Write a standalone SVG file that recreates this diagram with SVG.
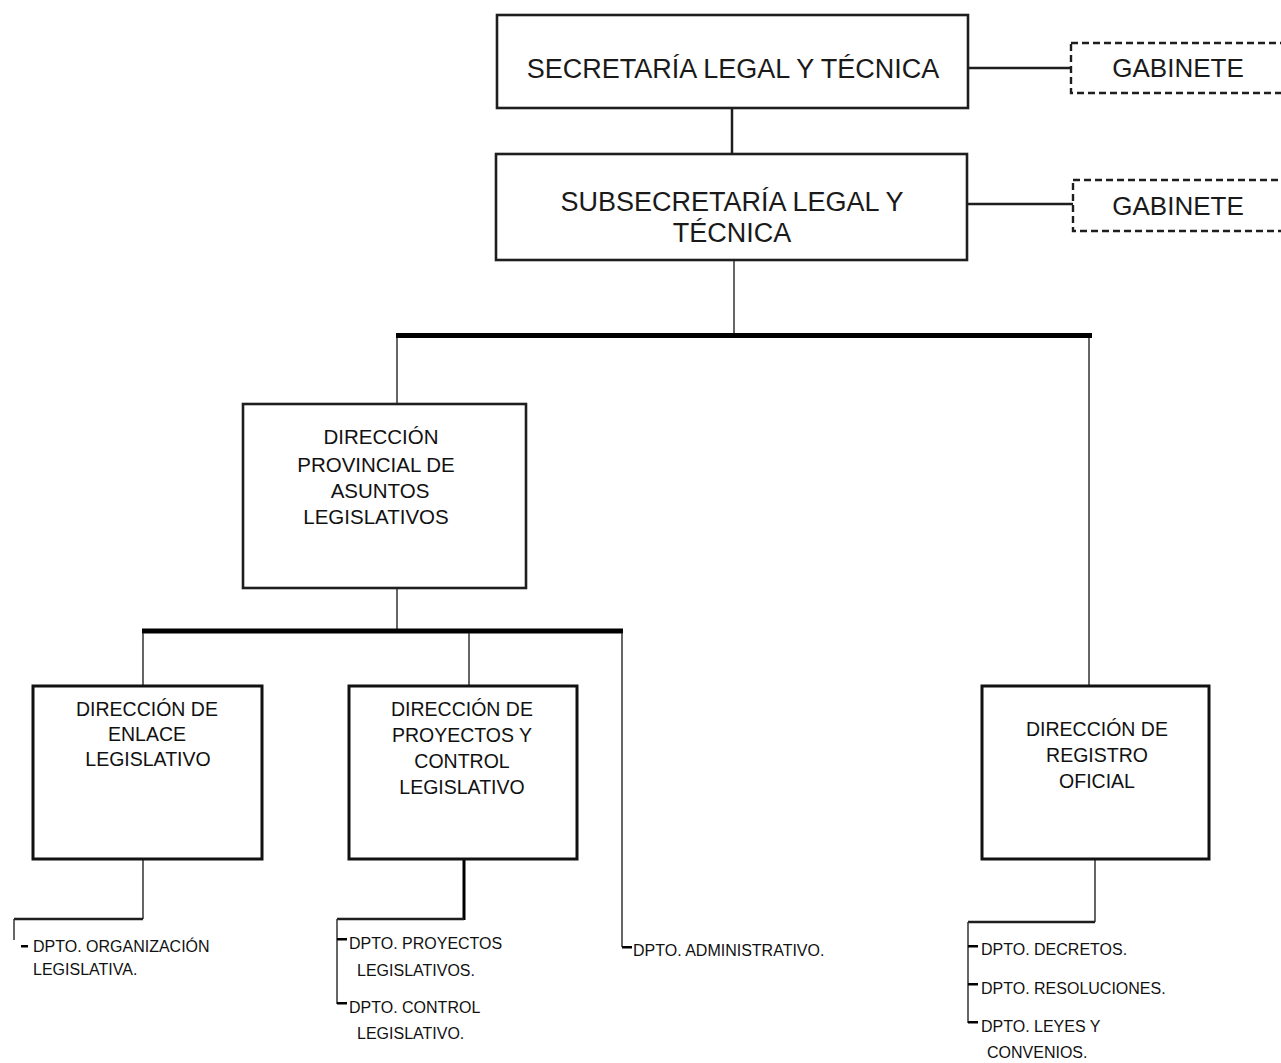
<svg xmlns="http://www.w3.org/2000/svg" width="1281" height="1063" viewBox="0 0 1281 1063">
<style>
.box{fill:#fff;stroke:#1e1e1e;stroke-width:2.6}
.box3{fill:#fff;stroke:#111;stroke-width:3}
.dash{fill:#fff;stroke:#1e1e1e;stroke-width:2.4;stroke-dasharray:7,4}
.t27{font-family:"Liberation Sans",Arial,sans-serif;font-size:27px;fill:#1a1a1a;text-anchor:middle}
.t26{font-family:"Liberation Sans",Arial,sans-serif;font-size:26px;fill:#1a1a1a;text-anchor:middle}
.t20{font-family:"Liberation Sans",Arial,sans-serif;font-size:20.5px;fill:#111;text-anchor:middle}
.t19{font-family:"Liberation Sans",Arial,sans-serif;font-size:19.5px;fill:#111;text-anchor:middle}
.t15{font-family:"Liberation Sans",Arial,sans-serif;font-size:16px;fill:#111}
.thin{stroke:#333;stroke-width:1.5;fill:none}
.med{stroke:#1e1e1e;stroke-width:2.5;fill:none}
.thick{stroke:#000;stroke-width:5;fill:none}
.tick{fill:#000}
</style>
<rect width="1281" height="1063" fill="#fff"/>
<g id="connectors">
<line class="med" x1="732" y1="108" x2="732" y2="154"/>
<line class="med" x1="968" y1="68" x2="1071" y2="68"/>
<line class="med" x1="968" y1="204" x2="1073" y2="204"/>
<line class="thin" x1="734" y1="260" x2="734" y2="334"/>
<line class="thick" x1="396" y1="335.5" x2="1092" y2="335.5"/>
<line class="thin" x1="397" y1="338" x2="397" y2="404"/>
<line class="thin" x1="1089" y1="338" x2="1089" y2="686"/>
<line class="thin" x1="397" y1="588" x2="397" y2="629"/>
<line class="thick" x1="142" y1="631" x2="623" y2="631"/>
<line class="thin" x1="143" y1="633" x2="143" y2="686"/>
<line class="thin" x1="469" y1="633" x2="469" y2="686"/>
<line class="thin" x1="622" y1="633" x2="622" y2="947"/>
<line class="thin" x1="143" y1="859" x2="143" y2="919"/>
<line class="med" x1="14" y1="919" x2="143" y2="919"/>
<line class="thin" x1="14" y1="919" x2="14" y2="940"/>
<line stroke="#000" stroke-width="3" x1="464" y1="859" x2="464" y2="920"/>
<line class="med" x1="337" y1="919" x2="464" y2="919"/>
<line class="thin" x1="337" y1="919" x2="337" y2="1004"/>
<line class="thin" x1="1095" y1="859" x2="1095" y2="922"/>
<line class="med" x1="968" y1="922" x2="1095" y2="922"/>
<line class="thin" x1="968" y1="922" x2="968" y2="1023"/>
</g>
<g id="secretaria">
<rect class="box" x="497" y="15" width="471" height="93"/>
<text class="t27" x="733" y="78">SECRETARÍA LEGAL Y TÉCNICA</text>
</g>
<g id="gabinete1">
<rect class="dash" x="1071" y="43" width="240" height="50"/>
<text class="t26" x="1178" y="77">GABINETE</text>
</g>
<g id="subsecretaria">
<rect class="box" x="496" y="154" width="471" height="106"/>
<text class="t27" x="732" y="211">SUBSECRETARÍA LEGAL Y</text>
<text class="t27" x="732" y="242">TÉCNICA</text>
</g>
<g id="gabinete2">
<rect class="dash" x="1073" y="180" width="240" height="51"/>
<text class="t26" x="1178" y="215">GABINETE</text>
</g>
<g id="dir-provincial">
<rect class="box" x="243" y="404" width="283" height="184"/>
<text class="t20" x="381" y="444">DIRECCIÓN</text>
<text class="t20" x="376" y="472">PROVINCIAL DE</text>
<text class="t20" x="380" y="498">ASUNTOS</text>
<text class="t20" x="376" y="524">LEGISLATIVOS</text>
</g>
<g id="dir-enlace">
<rect class="box3" x="33" y="686" width="229" height="173"/>
<text class="t19" x="147" y="716">DIRECCIÓN DE</text>
<text class="t19" x="147" y="741">ENLACE</text>
<text class="t19" x="148" y="766">LEGISLATIVO</text>
</g>
<g id="dir-proyectos">
<rect class="box3" x="349" y="686" width="228" height="173"/>
<text class="t19" x="462" y="716">DIRECCIÓN DE</text>
<text class="t19" x="462" y="742">PROYECTOS Y</text>
<text class="t19" x="462" y="768">CONTROL</text>
<text class="t19" x="462" y="794">LEGISLATIVO</text>
</g>
<g id="dir-registro">
<rect class="box3" x="982" y="686" width="227" height="173"/>
<text class="t19" x="1097" y="736">DIRECCIÓN DE</text>
<text class="t19" x="1097" y="762">REGISTRO</text>
<text class="t19" x="1097" y="788">OFICIAL</text>
</g>
<g id="dpto-organizacion">
<rect class="tick" x="21" y="945" width="7" height="2.5"/>
<text class="t15" x="33" y="952">DPTO. ORGANIZACIÓN</text>
<text class="t15" x="33" y="975">LEGISLATIVA.</text>
</g>
<g id="dpto-proyectos">
<rect class="tick" x="337" y="938" width="10" height="2.5"/>
<text class="t15" x="349" y="949">DPTO. PROYECTOS</text>
<text class="t15" x="357" y="976">LEGISLATIVOS.</text>
</g>
<g id="dpto-control">
<rect class="tick" x="337" y="1002" width="10" height="2.5"/>
<text class="t15" x="349" y="1013">DPTO. CONTROL</text>
<text class="t15" x="357" y="1039">LEGISLATIVO.</text>
</g>
<g id="dpto-administrativo">
<rect class="tick" x="622" y="946" width="10" height="2.5"/>
<text class="t15" x="633" y="956">DPTO. ADMINISTRATIVO.</text>
</g>
<g id="dpto-decretos">
<rect class="tick" x="968" y="945" width="10" height="2.5"/>
<text class="t15" x="981" y="955">DPTO. DECRETOS.</text>
</g>
<g id="dpto-resoluciones">
<rect class="tick" x="968" y="983" width="10" height="2.5"/>
<text class="t15" x="981" y="994">DPTO. RESOLUCIONES.</text>
</g>
<g id="dpto-leyes">
<rect class="tick" x="968" y="1021" width="10" height="2.5"/>
<text class="t15" x="981" y="1032">DPTO. LEYES Y</text>
<text class="t15" x="987" y="1058">CONVENIOS.</text>
</g>
</svg>
